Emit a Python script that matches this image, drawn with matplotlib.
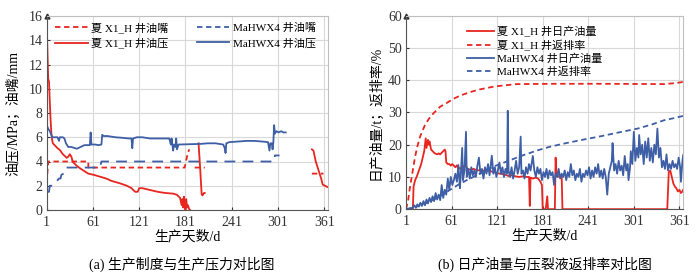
import numpy as np
import matplotlib
matplotlib.use("Agg")
import matplotlib.pyplot as plt

plt.rcParams['font.family'] = ['Liberation Serif', 'Noto Sans CJK SC']
plt.rcParams['axes.unicode_minus'] = False

nan = np.nan
red = '#e8251f'
blue = '#3e5ea6'

# ---- (a) choke size and tubing pressure ----
xia_choke_day = [1, 2, 3, 55, 55, 180, 182, 184, 186, nan, 193, 206, nan, 345, 360]
xia_choke = [2.2, 3.2, 4, 4, 3.5, 3.5, 4.1, 4.7, 5, nan, 3.5, 3.5, nan, 3, 3]

mah_choke_day = [1, 4, 5, 9, 17, 19, 20, 23, 25, 26, 70, 72, 296, 297, 303]
mah_choke = [1.5, 1.5, 2, 2, 2.6, 2.6, 2.9, 3.0, 3.3, 3.5, 3.5, 4, 4, 4.5, 4.5]

xia_press_day = [1, 2, 3, 4, 5, 6, 7, 8, 9, 12, 15, 18, 22, 27, 29, 31, 33, 35, 40, 44,
                 50, 55, 62, 70, 78, 85, 96, 105, 111, 114, 116, 119, 121, 125, 135,
                 145, 155, 165, 170, 174, 176, 177, 178, 179, 180, 181, 182, 183, 184,
                 186, 187, nan, 198, 200, 202, 203, 205, 206, nan, 345, 347, 350, 353,
                 355, 357, 359, 362, 365]
xia_press = [15.5, 13, 10.8, 10.6, 9, 7.5, 6.4, 5.8, 5.5, 5.3, 5.1, 4.95, 4.6, 4.3, 4.4,
             4.6, 4.4, 3.95, 3.65, 3.45, 3.2, 3.0, 2.9, 2.75, 2.6, 2.4, 2.2, 2.0, 1.8,
             1.6, 1.5, 1.5, 1.8, 1.8, 1.65, 1.5, 1.4, 1.35, 1.25, 1.0, 0.4, 0.9, 0.2,
             1.1, 0.5, 0.0, 0.9, 0.2, 0.4, 0.05, 0.0, nan, 5.5, 3.5, 1.3, 1.2, 1.4, 1.4,
             nan, 5.0, 4.9, 4.0, 3.4, 3.0, 2.6, 2.1, 2.0, 1.9]

mah_press_day = [1, 3, 5, 7, 8, 15, 17, 18, 22, 24, 26, 29, 33, 40, 45, 50, 57, 58, 59,
                 64, 68, 72, 73, 75, 80, 90, 100, 107, 111, 112, 113, 118, 125, 135, 150,
                 160, 162, 163, 165, 166, 168, 169, 170, 172, 200, 210, 220, 230, 232,
                 233, 234, 238, 250, 260, 270, 280, 288, 290, 291, 293, 294, 295, 296,
                 297, 299, 302, 305, 308, 311]
mah_press = [7.0, 6.7, 6.5, 6.2, 6.0, 6.0, 5.7, 6.0, 6.0, 5.9, 5.5, 5.2, 5.2, 5.05, 5.2,
             5.35, 5.35, 6.4, 5.4, 5.4, 5.35, 5.4, 6.2, 6.1, 6.1, 6.0, 5.95, 5.9, 5.9,
             5.1, 5.9, 6.0, 6.0, 5.9, 5.9, 5.9, 5.4, 5.9, 4.9, 5.4, 5.2, 5.9, 5.0, 5.4,
             5.45, 5.5, 5.5, 5.4, 5.1, 4.7, 5.5, 5.6, 5.65, 5.7, 5.7, 5.65, 5.6, 4.9,
             5.5, 5.5, 5.0, 5.6, 7.0, 6.3, 6.5, 6.4, 6.5, 6.4, 6.4]

# ---- (b) daily oil and flowback ratio ----
xia_oil_day = [1, 10, 11, 13, 15, 18, 21, 23, 25, 27, 28, 30, 31, 32, 34, 36, 38, 40, 42,
               44, 46, 48, 50, 52, 53, 54, 56, 58, 60, 62, 64, 66, 68, 70, 72, 74, 76,
               79, 82, 86, 90, 95, 100, 105, 110, 116, 120, 125, 130, 136, 140, 145,
               150, 155, 160, 163, 164, 165, 168, 172, 175, 178, 180, 181, 185, 187,
               188, 197, 198, 199, 201, 204, 206, 207, 345, 347, 349, 351, 353, 355,
               357, 359, 361, 363, 365, 366]
xia_oil = [0, 0, 7, 9, 10, 12, 14, 16, 18, 22, 19, 21.5, 20, 21, 18.5, 18, 17.5, 17.2,
           17, 17.3, 17, 17.5, 18, 18.5, 18, 14.5, 14, 14, 13.5, 14, 13.5, 13, 13.6,
           12.5, 12.8, 12.4, 13, 13.8, 12.5, 12.2, 12.5, 12, 12.2, 11.8, 12, 11.5, 11.2,
           11, 10.8, 10.3, 10.5, 10.2, 10, 10.2, 10, 10, 1, 9.8, 9.5, 9.8, 9.5, 8.5,
           7.5, 0, 0, 4, 0, 0, 16, 12, 10, 10.5, 10, 0, 0, 11.5, 12, 10, 8, 7, 6.5,
           5.5, 6, 5, 5.5, 6]

xia_flow_day = [1, 4, 6, 8.5, 11, 13, 16, 19.5, 23, 26, 31, 37, 46, 55, 64, 72, 85, 99,
                116, 130, 147, 200, 260, 341, 355, 367]
xia_flow = [0, 3, 6.5, 10, 13.5, 16.3, 19.5, 22.5, 24.5, 26.1, 28, 29.7, 31.8, 33, 34.3,
            35.2, 36.3, 37.2, 38, 38.4, 38.8, 38.9, 38.9, 38.8, 39.1, 39.5]

mah_oil_day = [1, 5, 8, 10, 12, 14, 16, 18, 20, 22, 24, 26, 28, 30, 32, 34, 36, 38, 40,
               42, 44, 46, 48, 50, 52, 54, 56, 58, 60, 62, 64, 66, 68, 70, 72, 73, 75,
               76, 78, 80, 81, 83, 85, 87, 89, 91, 93, 95, 97, 99, 101, 103, 105, 107,
               109, 111, 114, 116, 118, 120, 122, 124, 126, 128, 130, 132, 134, 135,
               136, 138, 140, 142, 144, 146, 148, 150, 152, 153, 155, 157, 159, 161,
               163, 165, 168, 170, 172, 174, 176, 178, 180, 182, 184, 186, 188, 190,
               192, 194, 196, 198, 200, 202, 204, 206, 208, 210, 212, 214, 216, 218,
               220, 222, 224, 226, 228, 230, 232, 234, 236, 238, 240, 242, 244, 246,
               248, 250, 252, 254, 256, 258, 260, 262, 264, 266, 268, 270, 272, 273,
               275, 277, 279, 281, 283, 285, 287, 289, 291, 293, 294, 296, 297, 299,
               301, 303, 305, 307, 308, 310, 312, 314, 316, 318, 320, 322, 324, 326,
               328, 330, 332, 334, 336, 338, 340, 342, 344, 346, 348, 350, 352, 354,
               356, 358, 360, 362, 363, 365, 366]
mah_oil = [0, 0, 0.3, 0.5, 1.2, 0.4, 1.5, 0.8, 2, 1, 2.5, 1.2, 3, 1.8, 3.5, 2.2, 4, 2.5,
           5, 3, 4.5, 2.8, 7.5, 3.5, 6, 4.5, 9.5, 6, 10, 7.5, 9, 11, 8.5, 13.7, 6.5, 10,
           19, 9, 12, 24, 10, 12.5, 9.5, 13, 10.5, 12, 10, 13.5, 16, 11, 12.5, 9.5, 13,
           11, 14, 10.5, 16.6, 11, 13, 10, 12, 14.5, 11, 13, 10, 12.5, 11, 30.5, 12, 10,
           13, 9.5, 12, 15, 11, 13, 22.5, 11, 12, 9.5, 13, 11, 14, 12, 16.5, 12, 10, 13,
           11, 12.5, 9, 11.5, 10, 12.5, 9.5, 12, 10.5, 11.5, 7.5, 11, 10, 12.5, 9.5, 11,
           10, 12, 9, 11.5, 10, 14, 10.5, 12, 9, 11, 10, 12.5, 8.5, 11, 10, 12, 10.5, 13,
           9.5, 12, 10, 13, 11, 14, 10, 12, 9.5, 12.5, 10, 4.5, 11, 13, 15, 20.5, 12, 14,
           11, 15, 12, 13.5, 10.5, 16.5, 12, 14, 9, 13, 18, 14, 24, 15, 19, 16, 23, 17,
           20, 14, 21, 16, 22, 15, 19, 14.5, 20, 17, 25, 16, 19, 13, 15, 12.5, 17, 12,
           14, 12.5, 15, 13, 14, 12.5, 16, 13, 8.5, 15, 16.8]

mah_flow_day = [1, 15, 25, 41, 50, 59, 70, 81, 100, 116, 136, 156, 175, 191, 212, 235,
                257, 279, 306, 325, 341, 355, 367]
mah_flow = [0, 0.8, 1.6, 3.4, 4.6, 6, 7.6, 9, 11.2, 13.2, 15, 16.8, 18.3, 19.4, 20.5,
            21.6, 22.6, 23.7, 25, 26.3, 27.6, 28.3, 29]

day_ticks = [1, 61, 121, 181, 241, 301, 361]

fig = plt.figure(figsize=(7, 2.72), dpi=100)
ax1 = fig.add_axes([0.0667, 0.228, 0.402, 0.713])
ax2 = fig.add_axes([0.58, 0.231, 0.396, 0.711])


def style_axes(ax, ymax, ystep):
    ax.set_xlim(1, 366)
    ax.set_ylim(0, ymax)
    ax.set_xticks(day_ticks)
    ax.set_yticks(np.arange(0, ymax + 0.1, ystep))
    ax.grid(True, color='#d9d9d9', linewidth=0.8)
    ax.set_axisbelow(True)
    for s in ['top', 'right']:
        ax.spines[s].set_color('#bfbfbf')
    for s in ['left', 'bottom']:
        ax.spines[s].set_color('#555555')
    ax.tick_params(direction='in', length=2.5, labelsize=10, colors='#333333',
                   pad=3)
    ax.tick_params(axis='x', pad=4)
    ax.plot(0, 1, marker='^', color='#333333', markersize=3.5,
            transform=ax.transAxes, clip_on=False)
    ax.set_xlabel('生产天数/d', fontsize=10, labelpad=1)


style_axes(ax1, 16, 2)
ax1.plot(xia_choke_day, xia_choke, color=red, lw=1.3, ls=(0, (3, 2)))
ax1.plot(mah_choke_day, mah_choke, color=blue, lw=1.3, ls=(0, (6, 4)))
ax1.plot(xia_press_day, xia_press, color=red, lw=1.3)
ax1.plot(mah_press_day, mah_press, color=blue, lw=1.3)
ax1.set_ylabel('油压/MPa；油嘴/mm', fontsize=10, labelpad=6)
h1 = [plt.Line2D([], [], color=red, lw=1.3, ls=(0, (3, 2))),
      plt.Line2D([], [], color=red, lw=1.3),
      plt.Line2D([], [], color=blue, lw=1.3, ls=(0, (3, 2))),
      plt.Line2D([], [], color=blue, lw=1.3)]
ax1.legend(h1, ['夏 X1_H 井油嘴', '夏 X1_H 井油压', 'MaHWX4 井油嘴', 'MaHWX4 井油压'],
           ncol=2, loc='upper left', bbox_to_anchor=(-0.005, 1.02), frameon=False,
           fontsize=8, handlelength=2.9, columnspacing=2.6, labelspacing=0.45,
           handletextpad=0.3)

style_axes(ax2, 60, 10)
ax2.plot(xia_oil_day, xia_oil, color=red, lw=1.3, label='夏 X1_H 井日产油量')
ax2.plot(xia_flow_day, xia_flow, color=red, lw=1.3, ls=(0, (3, 2)),
         label='夏 X1_H 井返排率')
ax2.plot(mah_oil_day, mah_oil, color=blue, lw=1.3, label='MaHWX4 井日产油量')
ax2.plot(mah_flow_day, mah_flow, color=blue, lw=1.3, ls=(0, (3, 2)),
         label='MaHWX4 井返排率')
ax2.set_ylabel('日产油量/t；返排率/%', fontsize=10, labelpad=4)
ax2.legend(loc='upper left', bbox_to_anchor=(0.185, 1.0), frameon=False, fontsize=8,
           handlelength=2.4, labelspacing=0.25, handletextpad=0.3)

fig.text(0.259, 0.028, '(a) 生产制度与生产压力对比图', ha='center', va='center',
         fontsize=10)
fig.text(0.779, 0.028, '(b) 日产油量与压裂液返排率对比图', ha='center', va='center',
         fontsize=10)

fig.savefig('out.png', dpi=100)
